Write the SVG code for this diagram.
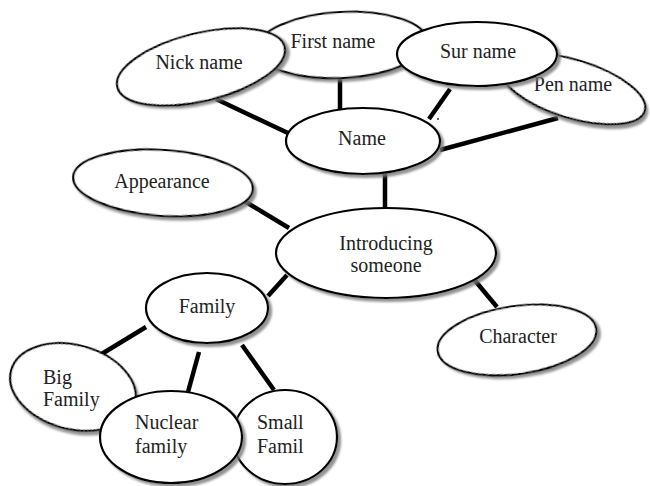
<svg xmlns="http://www.w3.org/2000/svg" width="650" height="486" viewBox="0 0 650 486">
<defs>
<filter id="sh" x="-20%" y="-20%" width="140%" height="140%">
<feDropShadow dx="3" dy="3" stdDeviation="1.2" flood-color="#777" flood-opacity="0.8"/>
</filter>
</defs>
<style>
.n ellipse{fill:#fff;stroke:#000;stroke-width:2.2;filter:url(#sh)}
.n text{font-family:"Liberation Serif","Times New Roman",serif;font-size:20px;fill:#222;text-anchor:middle}
.n text.l{text-anchor:start}
#edges line{stroke:#000;stroke-width:4.5;stroke-linecap:butt}
</style>
<rect width="650" height="486" fill="#fff"/>
<g id="edges">
<line x1="216" y1="99" x2="288" y2="133"/>
<line x1="340" y1="77" x2="340" y2="110"/>
<line x1="450" y1="89" x2="429" y2="119"/>
<line x1="558" y1="118" x2="440" y2="150"/>
<line x1="385" y1="172" x2="385" y2="210"/>
<line x1="241" y1="199" x2="289" y2="228"/>
<line x1="287" y1="275" x2="268" y2="296"/>
<line x1="472" y1="277" x2="497" y2="307"/>
<line x1="146" y1="327" x2="100" y2="355"/>
<line x1="199" y1="352" x2="188" y2="392"/>
<line x1="242" y1="345" x2="274" y2="390"/>
</g>
<circle cx="438" cy="119" r="1" fill="#333"/>
<g id="pen-name" class="n"><ellipse cx="573" cy="89" rx="75" ry="29" transform="rotate(17 573 89)"/><text x="573" y="91">Pen name</text></g>
<g id="first-name" class="n"><ellipse cx="342" cy="45" rx="85" ry="33" transform="rotate(-3 342 45)"/><text x="333" y="48">First name</text></g>
<g id="nick-name" class="n"><ellipse cx="201" cy="67" rx="86" ry="34" transform="rotate(-13.5 201 67)"/><text x="199" y="69">Nick name</text></g>
<g id="sur-name" class="n"><ellipse cx="477" cy="54" rx="80" ry="32"/><text x="478" y="58">Sur name</text></g>
<g id="name" class="n"><ellipse cx="363" cy="141" rx="77" ry="33"/><text x="362" y="145">Name</text></g>
<g id="appearance" class="n"><ellipse cx="163" cy="183" rx="90" ry="33" transform="rotate(4 163 183)"/><text x="162" y="188">Appearance</text></g>
<g id="introducing-someone" class="n"><ellipse cx="386" cy="253" rx="110" ry="45"/><text x="386" y="250">Introducing</text><text x="386" y="272">someone</text></g>
<g id="family" class="n"><ellipse cx="207" cy="308" rx="61" ry="35"/><text x="207" y="313">Family</text></g>
<g id="character" class="n"><ellipse cx="517" cy="340" rx="80" ry="34" transform="rotate(-8 517 340)"/><text x="518" y="343">Character</text></g>
<g id="big-family" class="n"><ellipse cx="73" cy="387" rx="64" ry="42" transform="rotate(15 73 387)"/><text class="l" x="43" y="384">Big</text><text class="l" x="43" y="406">Family</text></g>
<g id="small-famil" class="n"><ellipse cx="285" cy="437" rx="52" ry="47"/><text class="l" x="257" y="429">Small</text><text class="l" x="257" y="453">Famil</text></g>
<g id="nuclear-family" class="n"><ellipse cx="171" cy="437" rx="71" ry="46"/><text class="l" x="135" y="429">Nuclear</text><text class="l" x="135" y="453">family</text></g>
</svg>
